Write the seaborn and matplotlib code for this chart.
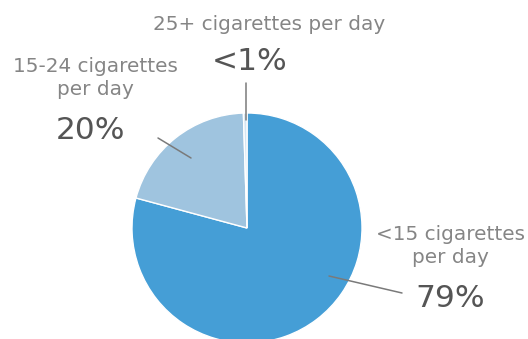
import matplotlib
matplotlib.use("Agg")
import matplotlib.pyplot as plt
import seaborn as sns

categories = ["<15 cigarettes\nper day", "15-24 cigarettes\nper day", "25+ cigarettes per day"]
values = [79.2, 20.3, 0.5]
pct_labels = ["79%", "20%", "<1%"]
colors = ["#459ed6", "#9fc4df", "#d4e6f3"]

sns.set_theme(style="white")
plt.rcParams["font.family"] = ["DejaVu Sans"]

W, H = 528, 339
fig = plt.figure(figsize=(W / 100, H / 100), dpi=100)
ax = fig.add_axes([0, 0, 1, 1])
ax.set_xlim(0, W)
ax.set_ylim(0, H)
ax.set_aspect("equal")
ax.axis("off")

def Y(y):
    return H - y

cx, cy, r = 247, 228, 115
ax.pie(values, colors=colors, startangle=90, counterclock=False,
       center=(cx, Y(cy)), radius=r,
       wedgeprops=dict(edgecolor="white", linewidth=1.0))
ax.set_xlim(0, W)
ax.set_ylim(0, H)

line_col = "#7a7a7a"
# leader lines
ax.plot([246, 246], [Y(83), Y(120)], color=line_col, lw=1.1)
ax.plot([158, 191], [Y(138), Y(158)], color=line_col, lw=1.1)
ax.plot([329, 402], [Y(276), Y(293)], color=line_col, lw=1.1)

lab_col = "#858585"
pct_col = "#555555"
lab_fs = 14.4
pct_fs = 22.5

# 25+ label
ax.text(269, Y(30), categories[2], ha="center", va="baseline", color=lab_col, fontsize=lab_fs)
ax.text(250, Y(70), pct_labels[2], ha="center", va="baseline", color=pct_col, fontsize=pct_fs)

# 15-24 label
l1, l2 = categories[1].split("\n")
ax.text(95, Y(72), l1, ha="center", va="baseline", color=lab_col, fontsize=lab_fs)
ax.text(95, Y(95), l2, ha="center", va="baseline", color=lab_col, fontsize=lab_fs)
ax.text(91, Y(139), pct_labels[1], ha="center", va="baseline", color=pct_col, fontsize=pct_fs)

# <15 label
l1, l2 = categories[0].split("\n")
ax.text(450, Y(240), l1, ha="center", va="baseline", color=lab_col, fontsize=lab_fs)
ax.text(450, Y(263), l2, ha="center", va="baseline", color=lab_col, fontsize=lab_fs)
ax.text(450, Y(307), pct_labels[0], ha="center", va="baseline", color=pct_col, fontsize=pct_fs)

fig.savefig("out.png", dpi=100)
